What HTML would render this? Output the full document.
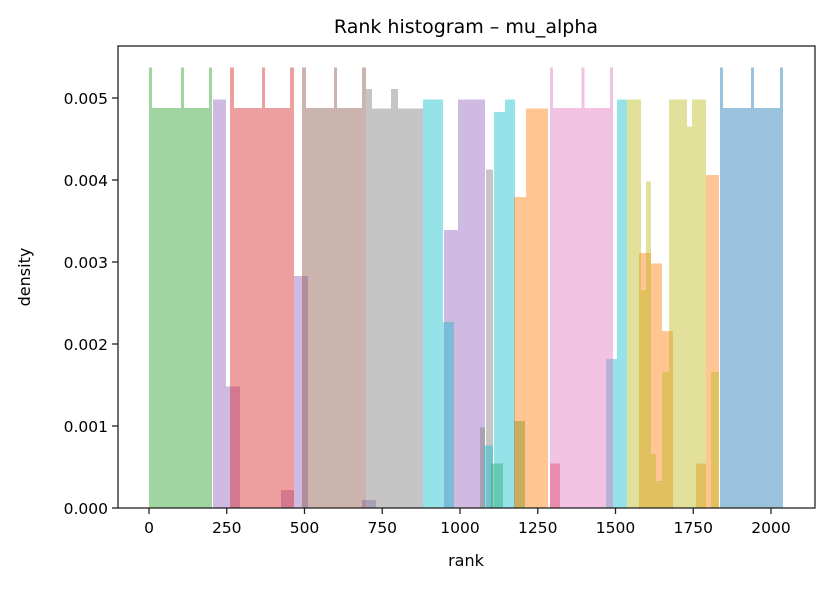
<!DOCTYPE html>
<html><head><meta charset="utf-8"><style>
body{margin:0;background:#fff;}
svg{font-family:"DejaVu Sans","Liberation Sans",sans-serif;}
</style></head><body>
<svg id="chart" width="830" height="586" xmlns="http://www.w3.org/2000/svg">
<rect width="830" height="586" fill="#fff"/>
<g id="bars"></g>
<g id="axes"></g>
<text x="466" y="33" text-anchor="middle" font-size="19">Rank histogram – mu_alpha</text>
<text x="466" y="566" text-anchor="middle" font-size="16">rank</text>
<text x="30" y="277" text-anchor="middle" font-size="16" transform="rotate(-90 30 277)">density</text>
</svg>
<script>
const xTicks=[0,250,500,750,1000,1250,1500,1750,2000];
const yTicks=[0,0.001,0.002,0.003,0.004,0.005];
const yTickLabels=["0.000","0.001","0.002","0.003","0.004","0.005"];
const seriesNames=["green","purple","red","brown","gray","cyan","orange","pink","olive","blue"];
const seriesColors=["#2ca02c","#9467bd","#d62728","#8c564b","#7f7f7f","#17becf","#ff7f0e","#e377c2","#bcbd22","#1f77b4"];
// each bin: [left rank, right rank, density]
const greenBins=[[0,10,0.00537],[10,103,0.00488],[103,113,0.00537],[113,193,0.00488],[193,203,0.00537],[1100,1138,0.00054],[1174,1209,0.00106]];
const purpleBins=[[206,248,0.00498],[248,293,0.00148],[424,466,0.00022],[466,511,0.00283],[685,730,0.0001],[949,994,0.00339],[994,1080,0.00498]];
const redBins=[[260,273,0.00537],[273,363,0.00488],[363,373,0.00537],[373,453,0.00488],[453,466,0.00537],[1289,1322,0.00054]];
const brownBins=[[492,505,0.00537],[505,595,0.00488],[595,605,0.00537],[605,685,0.00488],[685,698,0.00537]];
const grayBins=[[698,717,0.00511],[717,778,0.00487],[778,801,0.00511],[801,881,0.00487],[1064,1080,0.00098],[1084,1106,0.00413]];
const cyanBins=[[881,945,0.00498],[945,981,0.00227],[1077,1106,0.00076],[1109,1145,0.00483],[1145,1177,0.00498],[1469,1505,0.00182],[1505,1537,0.00498]];
const orangeBins=[[1174,1212,0.00379],[1212,1283,0.00487],[1576,1614,0.00311],[1614,1650,0.00298],[1650,1685,0.00216],[1759,1791,0.00054],[1791,1833,0.00406]];
const pinkBins=[[1289,1299,0.00537],[1299,1390,0.00488],[1390,1400,0.00537],[1400,1482,0.00488],[1482,1492,0.00537]];
const oliveBins=[[1537,1582,0.00498],[1582,1598,0.00266],[1598,1614,0.00398],[1614,1630,0.00066],[1630,1650,0.00033],[1650,1672,0.00166],[1672,1730,0.00498],[1730,1746,0.00465],[1746,1791,0.00498],[1807,1833,0.00166]];
const blueBins=[[1836,1846,0.00537],[1846,1935,0.00488],[1935,1945,0.00537],[1945,2029,0.00488],[2029,2039,0.00537]];
const allBins=[greenBins,purpleBins,redBins,brownBins,grayBins,cyanBins,orangeBins,pinkBins,oliveBins,blueBins];

const L=118,R=815,T=46,B=508;
function xs(v){return 149+v*(771-149)/2000;}
function ys(v){return 508-v*(508-98)/0.005;}
const NS="http://www.w3.org/2000/svg";
const bars=document.getElementById('bars');
allBins.forEach((bins,si)=>{
  bins.forEach((b,bi)=>{
    const r=document.createElementNS(NS,'rect');
    r.setAttribute('x',xs(b[0]));
    r.setAttribute('width',Math.max(0,xs(b[1])-xs(b[0])));
    r.setAttribute('y',ys(b[2]));
    r.setAttribute('height',B-ys(b[2]));
    r.setAttribute('fill',seriesColors[si]);
    r.setAttribute('fill-opacity','0.45');
    r.setAttribute('shape-rendering','crispEdges');
    
    
    bars.appendChild(r);
  });
});
const axes=document.getElementById('axes');
const frame=document.createElementNS(NS,'rect');
frame.setAttribute('x',L);frame.setAttribute('y',T);frame.setAttribute('width',R-L);frame.setAttribute('height',B-T);
frame.setAttribute('fill','none');frame.setAttribute('stroke','#222');frame.setAttribute('stroke-width','1.3');


axes.appendChild(frame);
xTicks.forEach(v=>{
  const l=document.createElementNS(NS,'line');
  l.setAttribute('x1',xs(v));l.setAttribute('x2',xs(v));l.setAttribute('y1',B);l.setAttribute('y2',B+6);
  l.setAttribute('stroke','#222');l.setAttribute('stroke-width','1.3');
  
  
  axes.appendChild(l);
  const t=document.createElementNS(NS,'text');
  t.setAttribute('x',xs(v));t.setAttribute('y',B+25);t.setAttribute('text-anchor','middle');t.setAttribute('font-size','15.5');
  t.textContent=String(v);
  
  
  axes.appendChild(t);
});
yTicks.forEach((v,i)=>{
  const l=document.createElementNS(NS,'line');
  l.setAttribute('x1',L-6);l.setAttribute('x2',L);l.setAttribute('y1',ys(v));l.setAttribute('y2',ys(v));
  l.setAttribute('stroke','#222');l.setAttribute('stroke-width','1.3');
  
  
  axes.appendChild(l);
  const t=document.createElementNS(NS,'text');
  t.setAttribute('x',L-10);t.setAttribute('y',ys(v)+6);t.setAttribute('text-anchor','end');t.setAttribute('font-size','15.5');
  t.textContent=yTickLabels[i];
  
  
  axes.appendChild(t);
});
</script>
</body></html>
